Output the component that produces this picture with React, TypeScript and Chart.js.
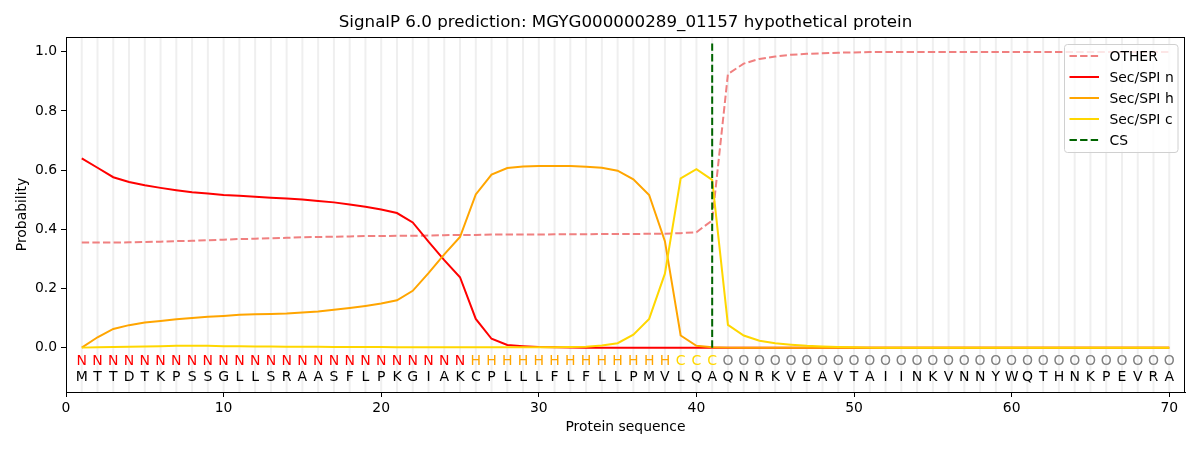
import React, { useEffect, useRef } from "react";
import { Chart, registerables } from "chart.js";

Chart.register(...registerables);

const TITLE = "SignalP 6.0 prediction: MGYG000000289_01157 hypothetical protein";
const X_TITLE = "Protein sequence";
const Y_TITLE = "Probability";

const sequence = "MTTDTKPSSGLLSRAASFLPKGIAKCPLLLFLFLLPMVLQAQNRKVEAVTAIINKVNNYWQTHNKPEVRA".split("");
const regionLabels = "NNNNNNNNNNNNNNNNNNNNNNNNNHHHHHHHHHHHHHCCCOOOOOOOOOOOOOOOOOOOOOOOOOOOOO".split("");
const positions = sequence.map((_, i) => i + 1);

const otherProb = [
  0.355, 0.355, 0.355, 0.356, 0.357, 0.358, 0.360, 0.361, 0.363, 0.365,
  0.367, 0.368, 0.370, 0.371, 0.373, 0.374, 0.375, 0.376, 0.377, 0.377,
  0.378, 0.378, 0.379, 0.380, 0.381, 0.381, 0.382, 0.382, 0.382, 0.382,
  0.383, 0.383, 0.383, 0.384, 0.384, 0.384, 0.385, 0.385, 0.387, 0.390,
  0.430, 0.925, 0.960, 0.976, 0.984, 0.990, 0.993, 0.995, 0.997, 0.998,
  0.999, 0.999, 0.999, 0.999, 0.999, 0.999, 0.999, 0.999, 0.999, 0.999,
  0.999, 0.999, 0.999, 0.999, 0.999, 0.999, 0.999, 0.999, 0.999, 0.999,
];

const secN = [
  0.640, 0.608, 0.576, 0.560, 0.549, 0.540, 0.532, 0.525, 0.521, 0.516,
  0.513, 0.510, 0.507, 0.504, 0.501, 0.496, 0.491, 0.484, 0.476, 0.467,
  0.455, 0.423, 0.358, 0.296, 0.238, 0.097, 0.030, 0.009, 0.005, 0.002,
  0.001, 0, 0, 0, 0, 0, 0, 0, 0, 0,
  0, 0, 0, 0, 0, 0, 0, 0, 0, 0,
  0, 0, 0, 0, 0, 0, 0, 0, 0, 0,
  0, 0, 0, 0, 0, 0, 0, 0, 0, 0,
];

const secH = [
  0.000, 0.035, 0.063, 0.076, 0.085, 0.090, 0.096, 0.100, 0.104, 0.107,
  0.111, 0.113, 0.114, 0.115, 0.119, 0.122, 0.128, 0.134, 0.141, 0.149,
  0.160, 0.192, 0.252, 0.315, 0.374, 0.518, 0.585, 0.607, 0.612, 0.614,
  0.614, 0.614, 0.611, 0.608, 0.598, 0.569, 0.516, 0.360, 0.041, 0.006,
  0.001, 0, 0, 0, 0, 0, 0, 0, 0, 0,
  0, 0, 0, 0, 0, 0, 0, 0, 0, 0,
  0, 0, 0, 0, 0, 0, 0, 0, 0, 0,
];

const secC = [
  0.000, 0.001, 0.002, 0.003, 0.004, 0.005, 0.006, 0.006, 0.006, 0.005,
  0.005, 0.004, 0.004, 0.003, 0.003, 0.003, 0.002, 0.002, 0.002, 0.002,
  0.001, 0.001, 0.001, 0.001, 0.001, 0.001, 0.001, 0.001, 0.001, 0.001,
  0.001, 0.002, 0.003, 0.007, 0.015, 0.044, 0.097, 0.250, 0.572, 0.603,
  0.567, 0.077, 0.041, 0.023, 0.015, 0.010, 0.006, 0.004, 0.002, 0.001,
  0, 0, 0, 0, 0, 0, 0, 0, 0, 0,
  0, 0, 0, 0, 0, 0, 0, 0, 0, 0,
];

const csPosition = 41;
const csSpan = [0, 1.035];

const xTicks = [0, 10, 20, 30, 40, 50, 60, 70];
const yTicks = [0, 0.2, 0.4, 0.6, 0.8, 1.0];

const regionColors: Record<string, string> = {
  N: "#ff0000",
  H: "#ffa500",
  C: "#ffd700",
  O: "#808080",
};

const FONT = "'DejaVu Sans', 'Liberation Sans', sans-serif";

const legendItems = [
  { label: "OTHER", color: "#f08080", dash: [7.4, 3.2] },
  { label: "Sec/SPI n", color: "#ff0000", dash: [] as number[] },
  { label: "Sec/SPI h", color: "#ffa500", dash: [] as number[] },
  { label: "Sec/SPI c", color: "#ffd700", dash: [] as number[] },
  { label: "CS", color: "#006400", dash: [7.4, 3.2] },
];

const toPoints = (vals: number[]) => positions.map((p, i) => ({ x: p, y: vals[i] }));

const decorPlugin = {
  id: "decor",
  beforeDatasetsDraw(chart: any) {
    const { ctx, chartArea, scales } = chart;
    const xs = scales.x;
    ctx.save();
    ctx.strokeStyle = "#efefef";
    ctx.lineWidth = 2;
    for (const p of positions) {
      const px = xs.getPixelForValue(p);
      ctx.beginPath();
      ctx.moveTo(px, chartArea.top);
      ctx.lineTo(px, chartArea.bottom);
      ctx.stroke();
    }
    ctx.restore();
  },
  afterDraw(chart: any) {
    const { ctx, chartArea, scales } = chart;
    const xs = scales.x;
    const ys = scales.y;
    ctx.save();
    // frame
    ctx.strokeStyle = "#000";
    ctx.lineWidth = 1;
    ctx.strokeRect(chartArea.left + 0.5, chartArea.top + 0.5, chartArea.right - chartArea.left - 1, chartArea.bottom - chartArea.top);

    // sequence letters
    ctx.font = `14px ${FONT}`;
    ctx.textAlign = "center";
    ctx.textBaseline = "middle";
    const yLab = ys.getPixelForValue(-0.048);
    const ySeq = ys.getPixelForValue(-0.1);
    positions.forEach((p, i) => {
      const px = xs.getPixelForValue(p);
      ctx.fillStyle = regionColors[regionLabels[i]];
      ctx.fillText(regionLabels[i], px, yLab);
      ctx.fillStyle = "#000";
      ctx.fillText(sequence[i], px, ySeq);
    });

    // title
    const cx = (chartArea.left + chartArea.right) / 2;
    ctx.fillStyle = "#000";
    ctx.font = `16.7px ${FONT}`;
    ctx.fillText(TITLE, cx, 23);

    // axis titles
    ctx.font = `13.9px ${FONT}`;
    ctx.fillText(X_TITLE, cx, 427);
    ctx.save();
    ctx.translate(22, (chartArea.top + chartArea.bottom) / 2);
    ctx.rotate(-Math.PI / 2);
    ctx.fillText(Y_TITLE, 0, 0);
    ctx.restore();

    // legend
    const bx = 1064.5, by = 44.5, bw = 113.5, bh = 108, r = 3;
    ctx.beginPath();
    ctx.moveTo(bx + r, by);
    ctx.lineTo(bx + bw - r, by);
    ctx.arcTo(bx + bw, by, bx + bw, by + r, r);
    ctx.lineTo(bx + bw, by + bh - r);
    ctx.arcTo(bx + bw, by + bh, bx + bw - r, by + bh, r);
    ctx.lineTo(bx + r, by + bh);
    ctx.arcTo(bx, by + bh, bx, by + bh - r, r);
    ctx.lineTo(bx, by + r);
    ctx.arcTo(bx, by, bx + r, by, r);
    ctx.closePath();
    ctx.fillStyle = "rgba(255,255,255,0.8)";
    ctx.fill();
    ctx.strokeStyle = "#d0d0d0";
    ctx.lineWidth = 1;
    ctx.stroke();

    ctx.font = `13.9px ${FONT}`;
    ctx.textAlign = "left";
    legendItems.forEach((it, i) => {
      const yy = 56 + i * 21;
      ctx.strokeStyle = it.color;
      ctx.lineWidth = 2;
      ctx.setLineDash(it.dash);
      ctx.beginPath();
      ctx.moveTo(1069.5, yy);
      ctx.lineTo(1099, yy);
      ctx.stroke();
      ctx.setLineDash([]);
      ctx.fillStyle = "#000";
      ctx.fillText(it.label, 1109.5, yy + 1);
    });
    ctx.restore();
  },
};

export default function App() {
  const canvasRef = useRef<HTMLCanvasElement | null>(null);

  useEffect(() => {
    document.body.style.margin = "0";
    const canvas = canvasRef.current;
    if (!canvas) return;
    const chart = new Chart(canvas, {
      type: "line",
      data: {
        datasets: [
          {
            label: "OTHER",
            data: toPoints(otherProb),
            borderColor: "#f08080",
            borderWidth: 2,
            borderDash: [7.4, 3.2],
            pointRadius: 0,
            tension: 0,
            order: 5,
          },
          {
            label: "Sec/SPI n",
            data: toPoints(secN),
            borderColor: "#ff0000",
            borderWidth: 2,
            pointRadius: 0,
            tension: 0,
            order: 4,
          },
          {
            label: "Sec/SPI h",
            data: toPoints(secH),
            borderColor: "#ffa500",
            borderWidth: 2,
            pointRadius: 0,
            tension: 0,
            order: 3,
          },
          {
            label: "Sec/SPI c",
            data: toPoints(secC),
            borderColor: "#ffd700",
            borderWidth: 2,
            pointRadius: 0,
            tension: 0,
            order: 2,
          },
          {
            label: "CS",
            data: csSpan.map((v) => ({ x: csPosition, y: v })),
            borderColor: "#006400",
            borderWidth: 2,
            borderDash: [7.4, 3.2],
            pointRadius: 0,
            tension: 0,
            order: 1,
          },
        ],
      },
      options: {
        responsive: false,
        devicePixelRatio: 1,
        animation: false,
        layout: { padding: { left: 0, top: 37, right: 15, bottom: 0 } },
        plugins: {
          legend: { display: false },
          title: { display: false },
          tooltip: { enabled: false },
        },
        scales: {
          x: {
            type: "linear",
            min: 0,
            max: 71,
            afterBuildTicks: (scale: any) => {
              scale.ticks = xTicks.map((v) => ({ value: v }));
            },
            afterFit: (scale: any) => {
              scale.height = 58;
            },
            ticks: {
              autoSkip: false,
              maxRotation: 0,
              padding: 3,
              color: "#000",
              font: { family: FONT, size: 13.9 },
              callback: (v: any) => String(v),
            },
            grid: {
              display: true,
              drawOnChartArea: false,
              drawTicks: true,
              tickLength: 5,
              color: "#000",
              lineWidth: 1,
            },
            border: { display: true, color: "#000", width: 1 },
          },
          y: {
            type: "linear",
            min: -0.15,
            max: 1.05,
            afterBuildTicks: (scale: any) => {
              scale.ticks = yTicks.map((v) => ({ value: v }));
            },
            afterFit: (scale: any) => {
              scale.width = 66;
            },
            ticks: {
              autoSkip: false,
              padding: 4,
              color: "#000",
              font: { family: FONT, size: 13.9 },
              callback: (v: any) => Number(v).toFixed(1),
            },
            grid: {
              display: true,
              drawOnChartArea: false,
              drawTicks: true,
              tickLength: 5,
              color: "#000",
              lineWidth: 1,
            },
            border: { display: true, color: "#000", width: 1 },
          },
        },
      },
      plugins: [decorPlugin],
    } as any);
    return () => chart.destroy();
  }, []);

  return (
    <div style={{ position: "absolute", left: 0, top: 0, width: 1200, height: 450, background: "#fff" }}>
      <canvas ref={canvasRef} width={1200} height={450} style={{ width: 1200, height: 450 }} />
    </div>
  );
}
